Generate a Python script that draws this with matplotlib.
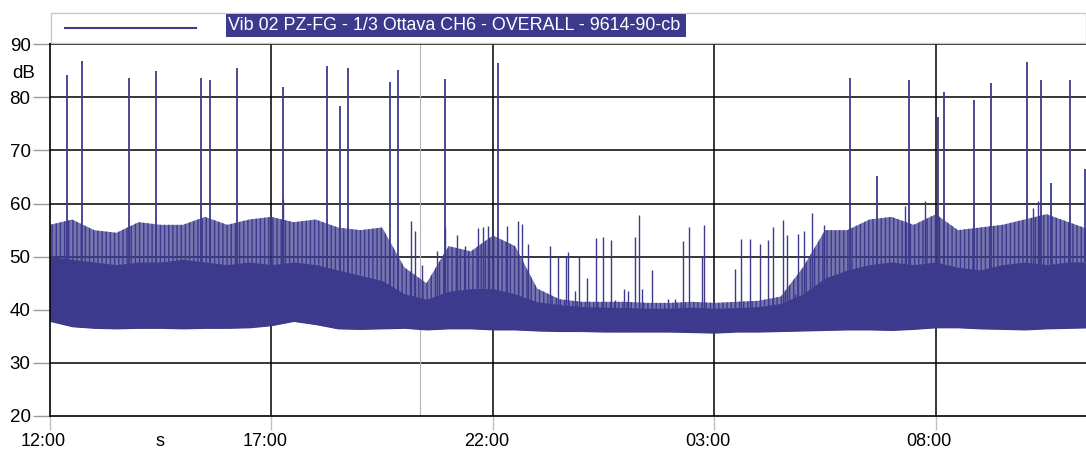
import numpy as np
import matplotlib
matplotlib.use("Agg")
import matplotlib.pyplot as plt
import matplotlib.transforms as mtransforms
from matplotlib.patches import Rectangle

plt.rcParams['font.family'] = ['Liberation Sans', 'DejaVu Sans']
plt.rcParams['hatch.linewidth'] = 1.0

# time axis: hours after 12:00, sampled every half hour for the band envelope
hours = np.arange(0, 24.0, 0.5)

# bottom edge of the trace (dB)
floor_db = [37.8, 36.8, 36.5, 36.4, 36.5, 36.5, 36.4, 36.5, 36.5, 36.6,
            37.0, 37.8, 37.2, 36.4, 36.3, 36.4, 36.5, 36.2, 36.4, 36.4,
            36.2, 36.2, 36.0, 35.9, 35.9, 35.8, 35.8, 35.8, 35.8, 35.7,
            35.6, 35.8, 35.8, 35.9, 36.0, 36.1, 36.2, 36.2, 36.1, 36.3,
            36.6, 36.6, 36.4, 36.3, 36.2, 36.4, 36.5, 36.6]
# top of the dense (solid) part of the trace
body_db = [50.0, 49.5, 49.0, 48.5, 49.0, 49.0, 49.5, 49.0, 48.5, 49.0,
           48.5, 49.0, 48.5, 47.5, 46.5, 45.5, 43.0, 42.0, 43.5, 44.0,
           44.0, 43.0, 41.5, 41.0, 40.6, 40.5, 40.4, 40.3, 40.3, 40.5,
           40.3, 40.4, 40.6, 41.2, 43.0, 46.0, 47.5, 48.5, 49.0, 48.5,
           49.0, 48.0, 47.5, 48.5, 49.0, 48.5, 49.0, 49.0]
# top of the cluster of small needles
top_db = [56.0, 57.0, 55.0, 54.5, 56.5, 56.0, 56.0, 57.5, 56.0, 57.0,
          57.5, 56.5, 57.0, 55.5, 55.0, 55.5, 48.0, 45.0, 52.0, 51.0,
          54.0, 52.0, 44.0, 42.0, 41.5, 41.5, 41.5, 41.3, 41.3, 41.5,
          41.3, 41.5, 41.7, 42.5, 48.0, 55.0, 55.0, 57.0, 57.5, 56.0,
          58.0, 55.0, 55.5, 56.0, 57.0, 58.0, 56.5, 55.0]

# isolated needles in the quieter stretches (hour, dB)
needle_h = [5.25, 8.15, 8.24, 8.40, 8.73, 8.92, 9.18, 9.37, 9.67, 9.78,
            9.88, 10.31, 10.57, 10.66, 10.80, 11.29, 11.47, 11.66, 11.69, 11.85,
            11.94, 12.13, 12.32, 12.48, 12.67, 12.75, 12.95, 13.05, 13.21, 13.30,
            13.37, 13.60, 13.96, 14.11, 14.30, 14.43, 14.72, 14.77, 15.46, 15.60,
            15.80, 16.04, 16.21, 16.33, 16.55, 16.65, 16.82, 16.89, 17.03, 17.21,
            17.47, 19.30, 19.76, 22.20, 22.30]
needle_db = [60.9, 56.7, 54.8, 48.5, 51.0, 55.5, 54.0, 52.0, 55.4, 55.5,
             55.7, 55.7, 56.7, 56.2, 52.3, 52.0, 50.0, 50.0, 50.8, 43.5,
             50.0, 46.0, 53.5, 53.8, 53.2, 41.9, 44.0, 43.5, 53.8, 57.9,
             44.0, 47.5, 42.0, 42.0, 52.9, 55.6, 50.0, 56.0, 47.7, 53.3,
             53.3, 52.3, 53.2, 55.6, 56.9, 54.0, 43.0, 54.2, 54.8, 58.2,
             56.0, 59.6, 60.5, 59.2, 60.5]

# tall spikes (hour, dB)
spike_h = [0.38, 0.72, 1.78, 2.40, 3.41, 3.62, 4.22, 5.25, 6.25, 6.54,
           6.72, 7.68, 7.86, 8.91, 10.12, 18.07, 18.67, 19.40, 20.04, 20.19,
           20.86, 21.25, 22.05, 22.37, 22.60, 23.02, 23.36]
spike_db = [84.2, 86.8, 83.6, 85.0, 83.7, 83.3, 85.5, 81.9, 85.9, 78.3,
            85.5, 82.9, 85.1, 83.5, 86.5, 83.7, 65.2, 83.3, 76.4, 81.0,
            79.5, 82.8, 86.6, 83.3, 63.9, 83.3, 66.6]

tick_hours = [0, 5, 10, 15, 20]
tick_labels = ["12:00", "17:00", "22:00", "03:00", "08:00"]
marker_hour = 8.35
title = "Vib 02 PZ-FG - 1/3 Ottava CH6 - OVERALL - 9614-90-cb"

trace = "#3d3a8e"
W, H = 1086, 450

fig = plt.figure(figsize=(W / 100, H / 100), dpi=100)
ax = fig.add_axes([50 / W, 1 - 416 / H, 1 - 50 / W, (416 - 44.3) / H])

ax.set_xlim(0, 23.39)
ax.set_ylim(20, 90)

# grid
for y in range(30, 90, 10):
    ax.axhline(y, color="black", lw=1.1, zorder=0)
for x in tick_hours[1:]:
    ax.axvline(x, color="black", lw=1.1, zorder=0)
ax.axvline(marker_hour, color="#b5b5b5", lw=0.8, zorder=0)

# the trace: needle cluster first (light + hatched), solid body on top
ax.fill_between(hours, floor_db, top_db, facecolor=trace, alpha=0.7, lw=0, zorder=2)
ax.fill_between(hours, floor_db, top_db, facecolor="none", edgecolor=trace,
                hatch="||||", lw=0, zorder=2)
ax.fill_between(hours, floor_db, body_db, color=trace, lw=0, zorder=2)
ax.vlines(needle_h, 38, needle_db, color=trace, lw=1.0, zorder=3)
ax.vlines(spike_h, 40, spike_db, color=trace, lw=1.3, zorder=3)

ax.spines["right"].set_visible(False)
for s in ["left", "bottom", "top"]:
    ax.spines[s].set_color("black")
    ax.spines[s].set_linewidth(1.2)

ax.set_yticks(range(20, 100, 10))
ax.set_yticklabels([str(v) for v in range(20, 100, 10)], fontsize=13.5)
ax.set_xticks(tick_hours)
ax.set_xticklabels(tick_labels, fontsize=13)
ax.tick_params(axis="y", length=12, width=1, color="#9a9a9a", pad=2)
ax.tick_params(axis="x", length=10, width=1, color="#c0c0c0", pad=2.5)
shift = mtransforms.ScaledTranslation(-6.5 / 100, 0, fig.dpi_scale_trans)
for lbl in ax.get_xticklabels():
    lbl.set_transform(lbl.get_transform() + shift)

# unit labels
fig.text(35 / W, 1 - 73.5 / H, "dB", fontsize=13.5, ha="right", va="center")
fig.text(159.5 / W, 1 - 441 / H, "s", fontsize=13, ha="center", va="center")

# legend strip
fig.patches.append(Rectangle((50.5 / W, 1 - 42.5 / H), 1 - 50.5 / W, 29.5 / H,
                             transform=fig.transFigure, fill=False,
                             edgecolor="#c8c8c8", lw=1))
fig.lines.append(plt.Line2D([65 / W, 196 / W], [1 - 27.5 / H, 1 - 27.5 / H],
                            transform=fig.transFigure, color=trace, lw=1.5))
fig.patches.append(Rectangle((226 / W, 1 - 36.5 / H), 460 / W, 22.5 / H,
                             transform=fig.transFigure, color=trace, lw=0))
t = fig.text(228 / W, 1 - 25.5 / H, title, fontsize=14, color="white",
             ha="left", va="center")
fig.canvas.draw()
bb = t.get_window_extent()
t.set_fontsize(14 * 455 / bb.width)

fig.savefig("out.png", dpi=100)
